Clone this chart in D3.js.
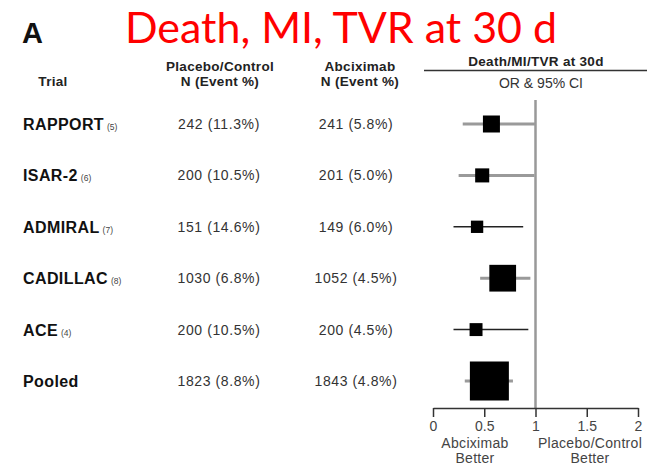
<!DOCTYPE html>
<html>
<head>
<meta charset="utf-8">
<script src="https://cdn.jsdelivr.net/npm/d3@7"></script>
<style>
  html, body { margin: 0; padding: 0; background: #fff; }
  svg { display: block; }
</style>
</head>
<body>
<svg id="chart" width="654" height="465" font-family="'Liberation Sans', Arial, Helvetica, sans-serif"></svg>
<script>
// Trials in the meta-analysis (top to bottom), with the reference number shown after each name
const trials = ["RAPPORT", "ISAR-2", "ADMIRAL", "CADILLAC", "ACE", "Pooled"];
const refs = ["(5)", "(6)", "(7)", "(8)", "(4)", ""];

// Patient counts and event rates, placebo/control vs abciximab
const controlText = ["242 (11.3%)", "200 (10.5%)", "151 (14.6%)", "1030 (6.8%)", "200 (10.5%)", "1823 (8.8%)"];
const abcixText = ["241 (5.8%)", "201 (5.0%)", "149 (6.0%)", "1052 (4.5%)", "200 (4.5%)", "1843 (4.8%)"];

// Odds ratio and 95% confidence limits for death/MI/TVR at 30 days
const oddsRatio = [0.57, 0.48, 0.43, 0.68, 0.42, 0.55];
const ciLow = [0.29, 0.25, 0.20, 0.46, 0.20, 0.31];
const ciHigh = [1.00, 0.99, 0.88, 0.95, 0.93, 0.78];

// Relative weight of each trial (%); the pooled estimate carries the total
const weights = [19, 13, 10, 47, 11, 100];

// Axis ticks
const tickValues = [0, 0.5, 1, 1.5, 2];
const tickLabels = ["0", "0.5", "1", "1.5", "2"];

const rows = trials.map((t, i) => ({
  trial: t, ref: refs[i], control: controlText[i], abcix: abcixText[i],
  or: oddsRatio[i], lo: ciLow[i], hi: ciHigh[i], w: weights[i]
}));

// Trials drawn with a thin dark CI line rather than a wide grey one
const thinLine = new Set(["ADMIRAL", "ACE"]);

const svg = d3.select("#chart");

const x = d3.scaleLinear().domain([0, 2]).range([433, 638]);
const y = d3.scalePoint().domain(trials).range([124, 381]);
const side = d3.scaleSqrt().domain([0, 100]).range([0, 39]);
const axisY = 408;

// Panel letter and title
svg.append("text")
  .attr("x", 22).attr("y", 43)
  .attr("font-size", 29).attr("font-weight", "bold").attr("fill", "#111")
  .text("A");

svg.append("text")
  .attr("x", 125).attr("y", 43)
  .attr("font-family", "Lato, 'Open Sans', sans-serif")
  .attr("font-size", 42).attr("fill", "#ff0000")
  .attr("textLength", 432).attr("lengthAdjust", "spacingAndGlyphs")
  .text("Death, MI, TVR at 30 d");

// Column headers
const head = svg.append("g").attr("fill", "#222").attr("font-weight", "bold")
  .attr("font-size", 13.5).attr("letter-spacing", 0.3);
head.append("text").attr("x", 53).attr("y", 86).attr("text-anchor", "middle").text("Trial");
head.append("text").attr("x", 220).attr("y", 71).attr("text-anchor", "middle").text("Placebo/Control");
head.append("text").attr("x", 220).attr("y", 86).attr("text-anchor", "middle").text("N (Event %)");
head.append("text").attr("x", 360).attr("y", 71).attr("text-anchor", "middle").text("Abciximab");
head.append("text").attr("x", 360).attr("y", 86).attr("text-anchor", "middle").text("N (Event %)");
head.append("text").attr("x", 536).attr("y", 66).attr("text-anchor", "middle").text("Death/MI/TVR at 30d");

svg.append("line")
  .attr("x1", 424).attr("x2", 647).attr("y1", 70.5).attr("y2", 70.5)
  .attr("stroke", "#333").attr("stroke-width", 1.5);

svg.append("text")
  .attr("x", 541).attr("y", 88).attr("text-anchor", "middle")
  .attr("font-size", 14).attr("fill", "#333")
  .text("OR & 95% CI");

// Trial names with reference numbers
const names = svg.append("g").selectAll("text").data(rows).join("text")
  .attr("x", 23).attr("y", d => y(d.trial) + 6)
  .attr("font-size", 16).attr("font-weight", "bold").attr("fill", "#111")
  .attr("letter-spacing", 0.4);
names.append("tspan").text(d => d.trial);
names.append("tspan")
  .attr("dx", 3).attr("font-size", 8.5).attr("font-weight", "normal").attr("fill", "#444")
  .attr("letter-spacing", 0)
  .text(d => d.ref);

// Count / event-rate columns
svg.append("g").selectAll("text").data(rows).join("text")
  .attr("x", 219).attr("y", d => y(d.trial) + 5)
  .attr("text-anchor", "middle").attr("font-size", 14).attr("letter-spacing", 0.6)
  .attr("fill", "#333")
  .text(d => d.control);

svg.append("g").selectAll("text").data(rows).join("text")
  .attr("x", 356).attr("y", d => y(d.trial) + 5)
  .attr("text-anchor", "middle").attr("font-size", 14).attr("letter-spacing", 0.6)
  .attr("fill", "#333")
  .text(d => d.abcix);

// Line of no effect at OR = 1
svg.append("line")
  .attr("x1", x(1)).attr("x2", x(1)).attr("y1", 100).attr("y2", axisY)
  .attr("stroke", "#999").attr("stroke-width", 2.5);

// Confidence intervals
svg.append("g").selectAll("line").data(rows).join("line")
  .attr("x1", d => x(d.lo)).attr("x2", d => x(d.hi))
  .attr("y1", d => y(d.trial)).attr("y2", d => y(d.trial))
  .attr("stroke", d => thinLine.has(d.trial) ? "#222" : "#9a9a9a")
  .attr("stroke-width", d => thinLine.has(d.trial) ? 1.5 : 3);

// Point estimates, box area proportional to weight
svg.append("g").selectAll("rect").data(rows).join("rect")
  .attr("x", d => x(d.or) - side(d.w) / 2)
  .attr("y", d => y(d.trial) - side(d.w) / 2)
  .attr("width", d => side(d.w)).attr("height", d => side(d.w))
  .attr("fill", "#000");

// Odds-ratio axis
const axis = d3.axisBottom(x)
  .tickValues(tickValues)
  .tickFormat((d, i) => tickLabels[i])
  .tickSize(9).tickSizeOuter(0).tickPadding(4);

const gAxis = svg.append("g").attr("transform", `translate(0,${axisY})`).call(axis);
gAxis.attr("font-family", null).attr("font-size", null);
gAxis.select(".domain").attr("stroke", "#333").attr("stroke-width", 1.5);
gAxis.selectAll(".tick line").attr("stroke", "#333").attr("stroke-width", 1.5);
gAxis.selectAll(".tick text")
  .attr("font-size", 14).attr("fill", "#444");

// Direction labels under the axis
const dir = svg.append("g").attr("font-size", 14).attr("fill", "#444")
  .attr("text-anchor", "middle").attr("letter-spacing", 0.3);
dir.append("text").attr("x", 475).attr("y", 448).text("Abciximab");
dir.append("text").attr("x", 475).attr("y", 463).text("Better");
dir.append("text").attr("x", 590).attr("y", 448).text("Placebo/Control");
dir.append("text").attr("x", 590).attr("y", 463).text("Better");
</script>
</body>
</html>
